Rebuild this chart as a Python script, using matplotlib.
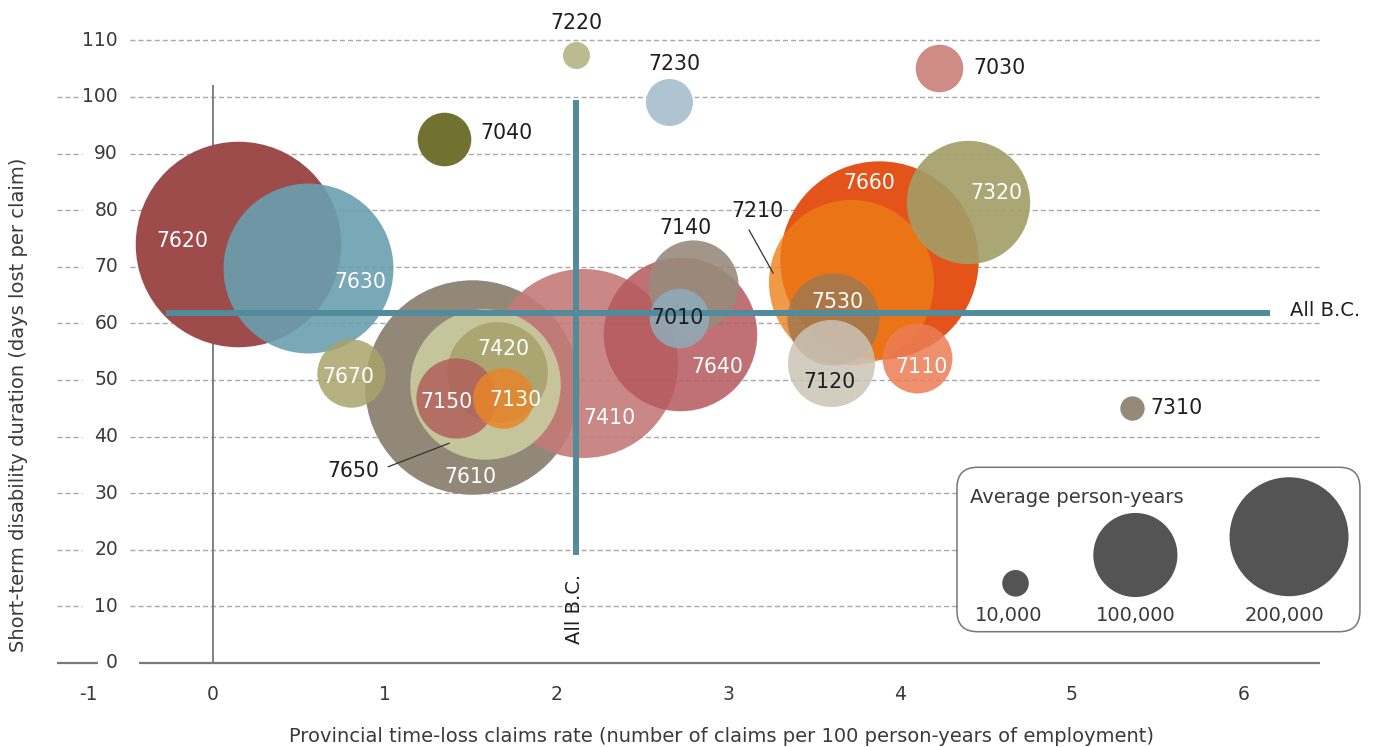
import matplotlib
matplotlib.use("Agg")
import matplotlib.pyplot as plt
from matplotlib.patches import FancyBboxPatch
import numpy as np

plt.rcParams['font.family'] = ['DejaVu Sans']

# ---------------- data ----------------
codes = ['7620', '7630', '7670', '7610', '7650', '7420', '7150', '7130', '7410', '7640',
         '7140', '7010', '7220', '7230', '7040', '7030', '7320', '7660', '7210', '7530',
         '7120', '7110', '7310']
claims_rate = [0.147, 0.555, 0.803, 1.507, 1.586, 1.654, 1.414, 1.689, 2.157, 2.720,
               2.796, 2.712, 2.115, 2.657, 1.347, 4.231, 4.399, 3.880, 3.715, 3.613,
               3.599, 4.098, 5.352]
duration_days = [74.1, 69.7, 51.2, 48.8, 49.3, 51.5, 46.9, 46.8, 53.0, 58.1,
                 66.8, 61.0, 107.4, 99.2, 92.5, 105.1, 81.5, 71.2, 67.4, 60.7,
                 53.0, 53.9, 45.1]
person_years = [597000, 408000, 66000, 650000, 320000, 143000, 91000, 52000, 505000, 333000,
                115000, 50000, 10300, 31200, 40600, 32000, 215000, 556000, 385000, 120000,
                107000, 69000, 8400]

all_bc_rate = 2.114
all_bc_duration = 61.9

legend_values = [10000, 100000, 200000]
legend_labels = ['10,000', '100,000', '200,000']

y_ticks = [0, 10, 20, 30, 40, 50, 60, 70, 80, 90, 100, 110]
x_ticks = [0, 1, 2, 3, 4, 5, 6]
x_tick_labels = ['0', '1', '2', '3', '4', '5', '6']

# ---------------- styles ----------------
colors = ['#9d4b4b', '#6a9faf', '#a8a46a', '#928878', '#c8c99f', '#a6a06a', '#b0605a', '#e8862a',
          '#c47a78', '#b5585e', '#978b7c', '#8facba', '#bcba90', '#aec4d0', '#717230', '#cf8b85',
          '#a29e66', '#e4541a', '#ec7e15', '#a07850', '#cbc3b7', '#ec7d55', '#958a78']
alphas = [1.0, 0.9, 0.85, 1.0, 0.95, 0.85, 0.85, 0.85,
          0.9, 0.85, 0.9, 0.85, 1.0, 1.0, 1.0, 1.0,
          0.9, 1.0, 0.78, 0.85, 0.85, 0.85, 1.0]
white_label = {'7620', '7630', '7670', '7420', '7150', '7130', '7610', '7410', '7640',
               '7660', '7320', '7530', '7110'}
label_pos = {
    '7620': (-0.181, 74.56), '7630': (0.856, 67.31), '7670': (0.786, 50.48),
    '7420': (1.689, 55.42), '7150': (1.358, 46.17), '7130': (1.764, 46.47),
    '7610': (1.500, 32.92), '7650': (0.820, 33.92), '7410': (2.310, 43.23),
    '7010': (2.707, 60.90), '7640': (2.937, 52.24), '7220': (2.116, 113.0),
    '7230': (2.688, 105.8), '7040': (1.711, 93.59), '7140': (2.749, 76.80),
    '7210': (3.173, 79.91), '7660': (3.825, 84.86), '7030': (4.582, 105.07),
    '7320': (4.564, 82.99), '7530': (3.638, 63.73), '7120': (3.589, 49.59),
    '7110': (4.125, 52.35), '7310': (5.614, 45.05),
}

BC_COLOR = '#528b9b'
GRID_COLOR = '#a8a8a8'
TEXT_DARK = '#1e1e1e'
TICK_COLOR = '#3a3a3a'


def size_pts2(v):
    # radius 13.3 px for 10,000 person-years, area proportional to value
    r_px = 13.3 * np.sqrt(np.asarray(v, dtype=float) / 10000.0)
    return (2 * r_px * 0.72) ** 2


fig = plt.figure(figsize=(13.73, 7.47), dpi=100)
ax = fig.add_axes([0, 0, 1, 1])
ax.set_xlim(-213 / 171.7, (1373 - 213) / 171.7)
ax.set_ylim((663 - 747) / 5.66, 663 / 5.66)
ax.axis('off')

# grid lines
for yt in y_ticks[1:]:
    ax.plot([-0.4834, 6.447], [yt, yt], color=GRID_COLOR, lw=1.0, ls=(0, (3.6, 2.2)), zorder=1)
    if yt != 110:
        ax.plot([-0.9086, -0.763], [yt, yt], color=GRID_COLOR, lw=1.0, ls=(0, (3.6, 2.2)), zorder=1)
# zero line (x axis)
ax.plot([-0.9086, -0.67], [0, 0], color='#7a7a7a', lw=1.6, zorder=1, solid_capstyle='butt')
ax.plot([-0.431, 6.447], [0, 0], color='#7a7a7a', lw=1.6, zorder=1, solid_capstyle='butt')
# vertical zero line
ax.plot([0, 0], [0, 102.1], color='#7f7f7f', lw=1.4, zorder=1, solid_capstyle='butt')

# y tick labels
for yt in y_ticks:
    ax.text(-0.553, yt, str(yt), ha='right', va='center', fontsize=13.5, color=TICK_COLOR)
# x tick labels
ax.text(-0.728, -5.48, '-1', ha='center', va='center', fontsize=13.5, color=TICK_COLOR)
for xt, lab in zip(x_ticks, x_tick_labels):
    ax.text(xt, -5.48, lab, ha='center', va='center', fontsize=13.5, color=TICK_COLOR)

ax.text(2.959, -13.07,
        'Provincial time-loss claims rate (number of claims per 100 person-years of employment)',
        ha='center', va='center', fontsize=14, color=TICK_COLOR)
ax.text(-1.1357, 45.6, 'Short-term disability duration (days lost per claim)',
        ha='center', va='center', rotation=90, fontsize=14, color=TICK_COLOR)

# bubbles, largest drawn first
order = np.argsort(person_years)[::-1]
sizes = size_pts2(person_years)
for z, i in enumerate(order):
    ax.scatter(claims_rate[i], duration_days[i], s=sizes[i], color=colors[i],
               alpha=alphas[i], linewidths=0, zorder=3 + z * 0.01)

# All B.C. reference lines
ax.plot([-0.275, 6.156], [all_bc_duration, all_bc_duration], color=BC_COLOR, lw=4.3,
        solid_capstyle='butt', zorder=5)
ax.plot([all_bc_rate, all_bc_rate], [19.1, 99.5], color=BC_COLOR, lw=4.3,
        solid_capstyle='butt', zorder=5)
ax.text(6.273, 62.2, 'All B.C.', ha='left', va='center', fontsize=14, color=TEXT_DARK, zorder=6)
ax.text(2.105, 9.63, 'All B.C.', ha='center', va='center', rotation=90, fontsize=14,
        color=TEXT_DARK, zorder=6)

# bubble labels
for c in codes:
    x, y = label_pos[c]
    ax.text(x, y, c, ha='center', va='center', fontsize=14.8,
            color='white' if c in white_label else TEXT_DARK, zorder=7)

# leader lines
ax.plot([1.021, 1.375], [34.68, 38.82], color='#333333', lw=0.9, zorder=7)
ax.plot([3.122, 3.262], [76.5, 68.9], color='#333333', lw=0.9, zorder=7)

# size legend
box = FancyBboxPatch((4.333, 5.53), 6.680 - 4.333, 34.58 - 5.53,
                     boxstyle='round,pad=0,rounding_size=0.12', mutation_aspect=30.34,
                     facecolor='white', edgecolor='#777777', lw=1.1, zorder=8)
ax.add_patch(box)
ax.text(4.409, 29.28, 'Average person-years', ha='left', va='center', fontsize=14,
        color=TICK_COLOR, zorder=9)
leg_x = [4.674, 5.372, 6.267]
leg_y = [14.08, 19.08, 22.31]
lab_x = [4.636, 5.376, 6.243]
ax.scatter(leg_x, leg_y, s=size_pts2(legend_values), color='#545454', linewidths=0, zorder=9)
for lx, lab in zip(lab_x, legend_labels):
    ax.text(lx, 8.36, lab, ha='center', va='center', fontsize=14, color=TICK_COLOR, zorder=9)

fig.savefig('out.png', dpi=100)
